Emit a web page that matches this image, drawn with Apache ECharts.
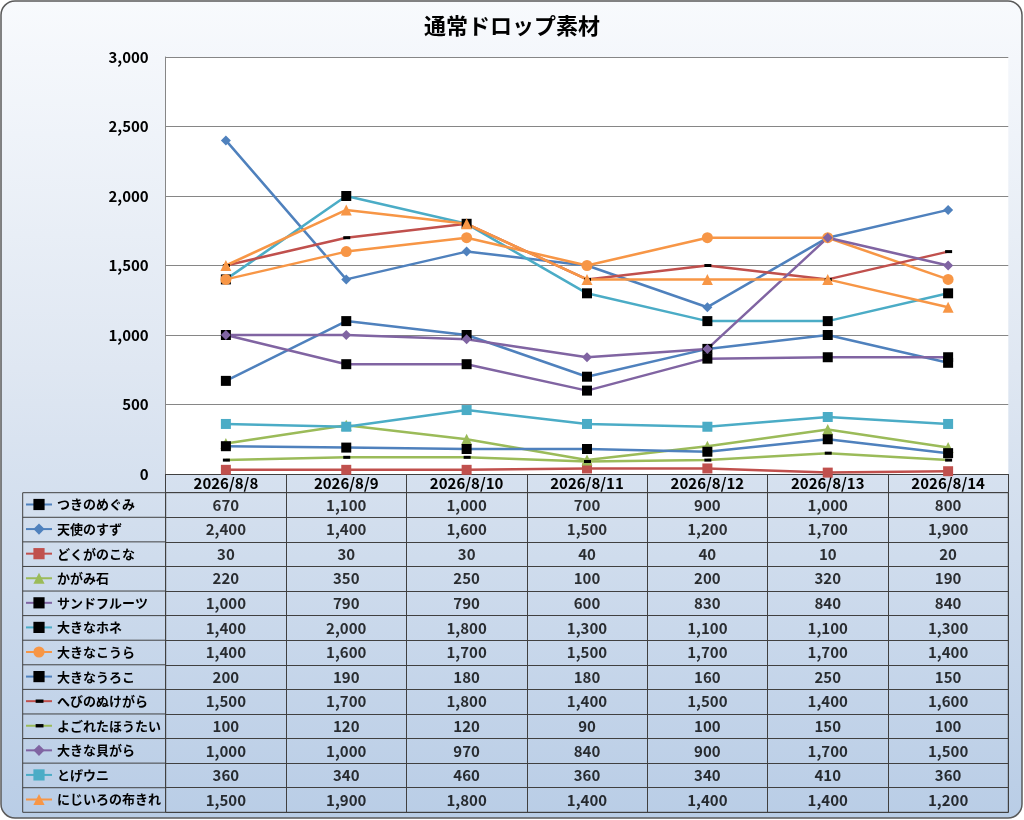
<!DOCTYPE html>
<html>
<head>
<meta charset="utf-8">
<script src="https://cdn.jsdelivr.net/npm/echarts@6/dist/echarts.min.js"></script>
<style>
html, body { margin: 0; padding: 0; background: #fff; }
#chart { width: 1024px; height: 820px; }
</style>
</head>
<body>
<div id="chart"></div>
<script>
// 日付
var dates = ['2026/8/8', '2026/8/9', '2026/8/10', '2026/8/11', '2026/8/12', '2026/8/13', '2026/8/14'];

// 素材ごとの個数
var tsukinomegumi  = [670, 1100, 1000, 700, 900, 1000, 800];
var tenshinosuzu   = [2400, 1400, 1600, 1500, 1200, 1700, 1900];
var dokuganokona   = [30, 30, 30, 40, 40, 10, 20];
var kagamiishi     = [220, 350, 250, 100, 200, 320, 190];
var sandfruit      = [1000, 790, 790, 600, 830, 840, 840];
var ookinahone     = [1400, 2000, 1800, 1300, 1100, 1100, 1300];
var ookinakoura    = [1400, 1600, 1700, 1500, 1700, 1700, 1400];
var ookinauroko    = [200, 190, 180, 180, 160, 250, 150];
var hebinonukegara = [1500, 1700, 1800, 1400, 1500, 1400, 1600];
var yogoretahoutai = [100, 120, 120, 90, 100, 150, 100];
var ookinakaigara  = [1000, 1000, 970, 840, 900, 1700, 1500];
var togeuni        = [360, 340, 460, 360, 340, 410, 360];
var nijiironunokire = [1500, 1900, 1800, 1400, 1400, 1400, 1200];

var names = ['つきのめぐみ', '天使のすず', 'どくがのこな', 'かがみ石', 'サンドフルーツ', '大きなホネ',
             '大きなこうら', '大きなうろこ', 'へびのぬけがら', 'よごれたほうたい', '大きな貝がら', 'とげウニ', 'にじいろの布きれ'];
var values = [tsukinomegumi, tenshinosuzu, dokuganokona, kagamiishi, sandfruit, ookinahone,
              ookinakoura, ookinauroko, hebinonukegara, yogoretahoutai, ookinakaigara, togeuni, nijiironunokire];

// 見た目 (線の色, マーカー, マーカーの色, サイズ)
var DASH = 'path://M0,0M10,10M2,3.5H9V6.5H2Z';
var looks = [
    ['#4f81bd', 'rect', '#000', 10],
    ['#4f81bd', 'diamond', '#4f81bd', 10],
    ['#c0504d', 'rect', '#c0504d', 10],
    ['#9bbb59', 'triangle', '#9bbb59', 11],
    ['#8064a2', 'rect', '#000', 10],
    ['#4bacc6', 'rect', '#000', 10],
    ['#f79646', 'circle', '#f79646', 11],
    ['#4f81bd', 'rect', '#000', 10],
    ['#c0504d', DASH, '#000', 10],
    ['#9bbb59', DASH, '#000', 10],
    ['#8064a2', 'diamond', '#8064a2', 10],
    ['#4bacc6', 'rect', '#4bacc6', 10],
    ['#f79646', 'triangle', '#f79646', 11]
];

var FONT = '"Noto Sans CJK JP", "Noto Sans", sans-serif';
var LINE = '#404040';

// 配置
var PL = 165.7, PR = 1008.3, PT = 57, PB = 474;
var HB = 492.7, TB = 812.3, TL = 22.7;
var ROW_H = (TB - HB) / names.length;

function fmt(v) {
    return String(v).replace(/\B(?=(\d{3})+(?!\d))/g, ',');
}

var chart = echarts.init(document.getElementById('chart'));

var series = names.map(function (name, i) {
    var lk = looks[i];
    return {
        name: name,
        type: 'line',
        xAxisIndex: 0,
        yAxisIndex: 0,
        data: values[i],
        symbol: lk[1],
        symbolSize: lk[3],
        showAllSymbol: true,
        lineStyle: { color: lk[0], width: 2.5 },
        itemStyle: { color: lk[2] },
        emphasis: { disabled: true },
        animation: false
    };
});

// 表のセル
var cells = [];
values.forEach(function (arr, i) {
    arr.forEach(function (v, j) {
        cells.push([j, i, v]);
    });
});
series.push({
    name: 'table',
    type: 'scatter',
    xAxisIndex: 1,
    yAxisIndex: 1,
    data: cells,
    symbol: 'rect',
    symbolSize: 1,
    silent: true,
    itemStyle: { color: 'rgba(0,0,0,0)' },
    label: {
        show: true,
        position: 'inside',
        formatter: function (p) { return fmt(p.value[2]); },
        fontFamily: FONT,
        fontSize: 15,
        fontWeight: 'bold',
        color: '#000'
    },
    animation: false
});

// 凡例は表の行ごとに1つ
var legends = names.map(function (name, r) {
    return {
        orient: 'vertical',
        left: 25,
        top: HB + r * ROW_H + ROW_H / 2 - 7,
        padding: 0,
        itemWidth: 26,
        itemHeight: 14,
        selectedMode: false,
        data: [name],
        lineStyle: { width: 2 },
        textStyle: { fontFamily: FONT, fontSize: 13, fontWeight: 'bold', color: '#000' }
    };
});

// 左列の罫線
var leftLines = [];
for (var r = 0; r <= names.length; r++) {
    var y = HB + r * ROW_H;
    leftLines.push({
        type: 'line',
        shape: { x1: TL, y1: y, x2: PL, y2: y },
        style: { stroke: LINE, lineWidth: 1 }
    });
}
leftLines.push({
    type: 'line',
    shape: { x1: TL, y1: HB, x2: TL, y2: TB },
    style: { stroke: LINE, lineWidth: 1 }
});

var option = {
    animation: false,
    textStyle: { fontFamily: FONT },
    title: {
        text: '通常ドロップ素材',
        left: 'center',
        top: 15,
        padding: 0,
        textStyle: { fontFamily: FONT, fontSize: 22, fontWeight: 'bold', color: '#000' }
    },
    graphic: [{
        type: 'rect',
        z: -100,
        shape: { x: 1, y: 1, width: 1021, height: 817, r: 14 },
        style: {
            fill: new echarts.graphic.LinearGradient(0, 0, 0, 1, [
                { offset: 0, color: '#f8fafd' },
                { offset: 0.45, color: '#dfe7f2' },
                { offset: 1, color: '#b9cde6' }
            ]),
            stroke: '#5a5a5a',
            lineWidth: 1.5
        }
    }].concat(leftLines),
    legend: legends,
    grid: [{
        left: PL, top: PT, width: PR - PL, height: PB - PT,
        show: true, backgroundColor: '#fff', borderWidth: 0
    }, {
        left: PL, top: HB, width: PR - PL, height: TB - HB,
        show: true, backgroundColor: 'rgba(0,0,0,0)', borderColor: LINE, borderWidth: 1
    }],
    xAxis: [{
        gridIndex: 0,
        type: 'category',
        data: dates,
        boundaryGap: true,
        axisLine: { show: true, lineStyle: { color: LINE, width: 1 } },
        axisTick: { show: true, inside: false, length: HB - PB, interval: 0, lineStyle: { color: LINE } },
        axisLabel: { interval: 0, margin: 2, fontFamily: FONT, fontSize: 15, fontWeight: 'bold', color: '#000' },
        splitLine: { show: false }
    }, {
        gridIndex: 1,
        type: 'category',
        data: dates,
        boundaryGap: true,
        axisLine: { show: false },
        axisTick: { show: false },
        axisLabel: { show: false },
        splitLine: { show: true, interval: 0, lineStyle: { color: LINE, width: 1 } }
    }],
    yAxis: [{
        gridIndex: 0,
        type: 'value',
        min: 0,
        max: 3000,
        interval: 500,
        axisLine: { show: true, lineStyle: { color: '#868686' } },
        axisTick: { show: false },
        axisLabel: {
            margin: 17,
            formatter: fmt,
            fontFamily: FONT, fontSize: 15, fontWeight: 'bold', color: '#000'
        },
        splitLine: { show: true, lineStyle: { color: '#868686', width: 1 } }
    }, {
        gridIndex: 1,
        type: 'category',
        data: names,
        inverse: true,
        boundaryGap: true,
        axisLine: { show: false },
        axisTick: { show: false },
        axisLabel: { show: false },
        splitLine: { show: true, interval: 0, lineStyle: { color: LINE, width: 1 } }
    }],
    series: series
};

chart.setOption(option);
</script>
</body>
</html>
